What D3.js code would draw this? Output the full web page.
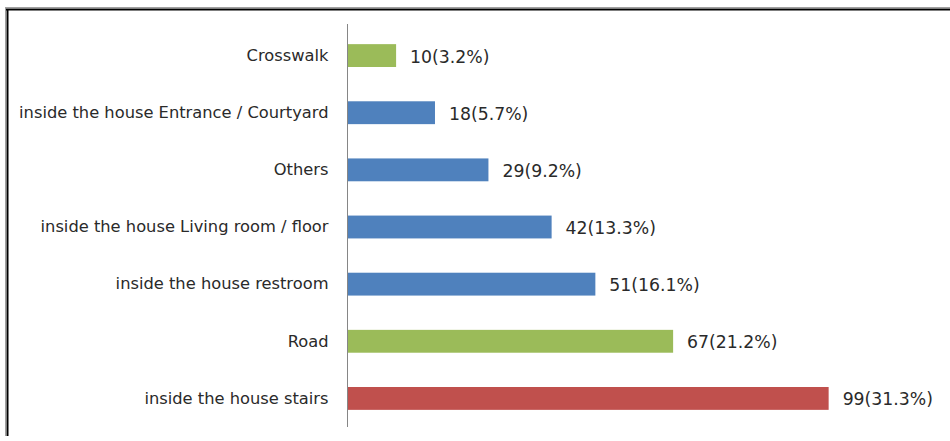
<!DOCTYPE html>
<html>
<head>
<meta charset="utf-8">
<script src="https://cdn.jsdelivr.net/npm/d3@7"></script>
<style>
  html, body { margin: 0; padding: 0; background: #fff; }
  svg { display: block; }
</style>
</head>
<body>
<svg id="chart" width="950" height="441"></svg>
<script>
const categories = [
  "Crosswalk",
  "inside the house Entrance / Courtyard",
  "Others",
  "inside the house Living room / floor",
  "inside the house restroom",
  "Road",
  "inside the house stairs"
];
const counts = [10, 18, 29, 42, 51, 67, 99];
const percents = ["3.2%", "5.7%", "9.2%", "13.3%", "16.1%", "21.2%", "31.3%"];
const groups = ["outside", "inside", "other", "inside", "inside", "outside", "inside-top"];

const colorMap = { "outside": "#9BBB59", "inside": "#4F81BD", "other": "#4F81BD", "inside-top": "#C0504D" };

const svg = d3.select("#chart");

// frame
svg.append("line").attr("x1", 6).attr("x2", 950).attr("y1", 7.5).attr("y2", 7.5)
  .attr("stroke", "#a0a0a0").attr("stroke-width", 1);
svg.append("line").attr("x1", 6).attr("x2", 950).attr("y1", 9.5).attr("y2", 9.5)
  .attr("stroke", "#000").attr("stroke-width", 2);
svg.append("line").attr("x1", 5.5).attr("x2", 5.5).attr("y1", 7).attr("y2", 436)
  .attr("stroke", "#a0a0a0").attr("stroke-width", 1);
svg.append("line").attr("x1", 7.5).attr("x2", 7.5).attr("y1", 9).attr("y2", 436)
  .attr("stroke", "#000").attr("stroke-width", 2);

const x0 = 347.5;
const x = d3.scaleLinear().domain([0, 100]).range([x0, x0 + 486]);
const y = d3.scaleBand().domain(categories).range([27, 427]).paddingInner(0.6).paddingOuter(0.3);

const data = categories.map((c, i) => ({ c, v: counts[i], p: percents[i], g: groups[i] }));

svg.append("g").selectAll("rect").data(data).join("rect")
  .attr("x", x(0))
  .attr("y", d => y(d.c))
  .attr("width", d => x(d.v) - x(0))
  .attr("height", y.bandwidth())
  .attr("fill", d => colorMap[d.g]);

// axis
const axis = d3.axisLeft(y).tickSize(0).tickPadding(19);
const ag = svg.append("g").attr("transform", `translate(${x0},0)`).call(axis);
ag.select(".domain").attr("stroke", "#868686").attr("d", "M0,24V427");
ag.selectAll("text")
  .attr("font-family", "'DejaVu Sans', sans-serif")
  .attr("font-size", 16.3)
  .attr("fill", "#2a2a2a");

svg.append("g").selectAll("text").data(data).join("text")
  .attr("x", d => x(d.v) + 14)
  .attr("y", d => y(d.c) + y.bandwidth() / 2 + 2)
  .attr("dominant-baseline", "middle")
  .attr("font-family", "'DejaVu Sans', sans-serif")
  .attr("font-size", 17.3)
  .attr("fill", "#2a2a2a")
  .text(d => `${d.v}(${d.p})`);
</script>
</body>
</html>
